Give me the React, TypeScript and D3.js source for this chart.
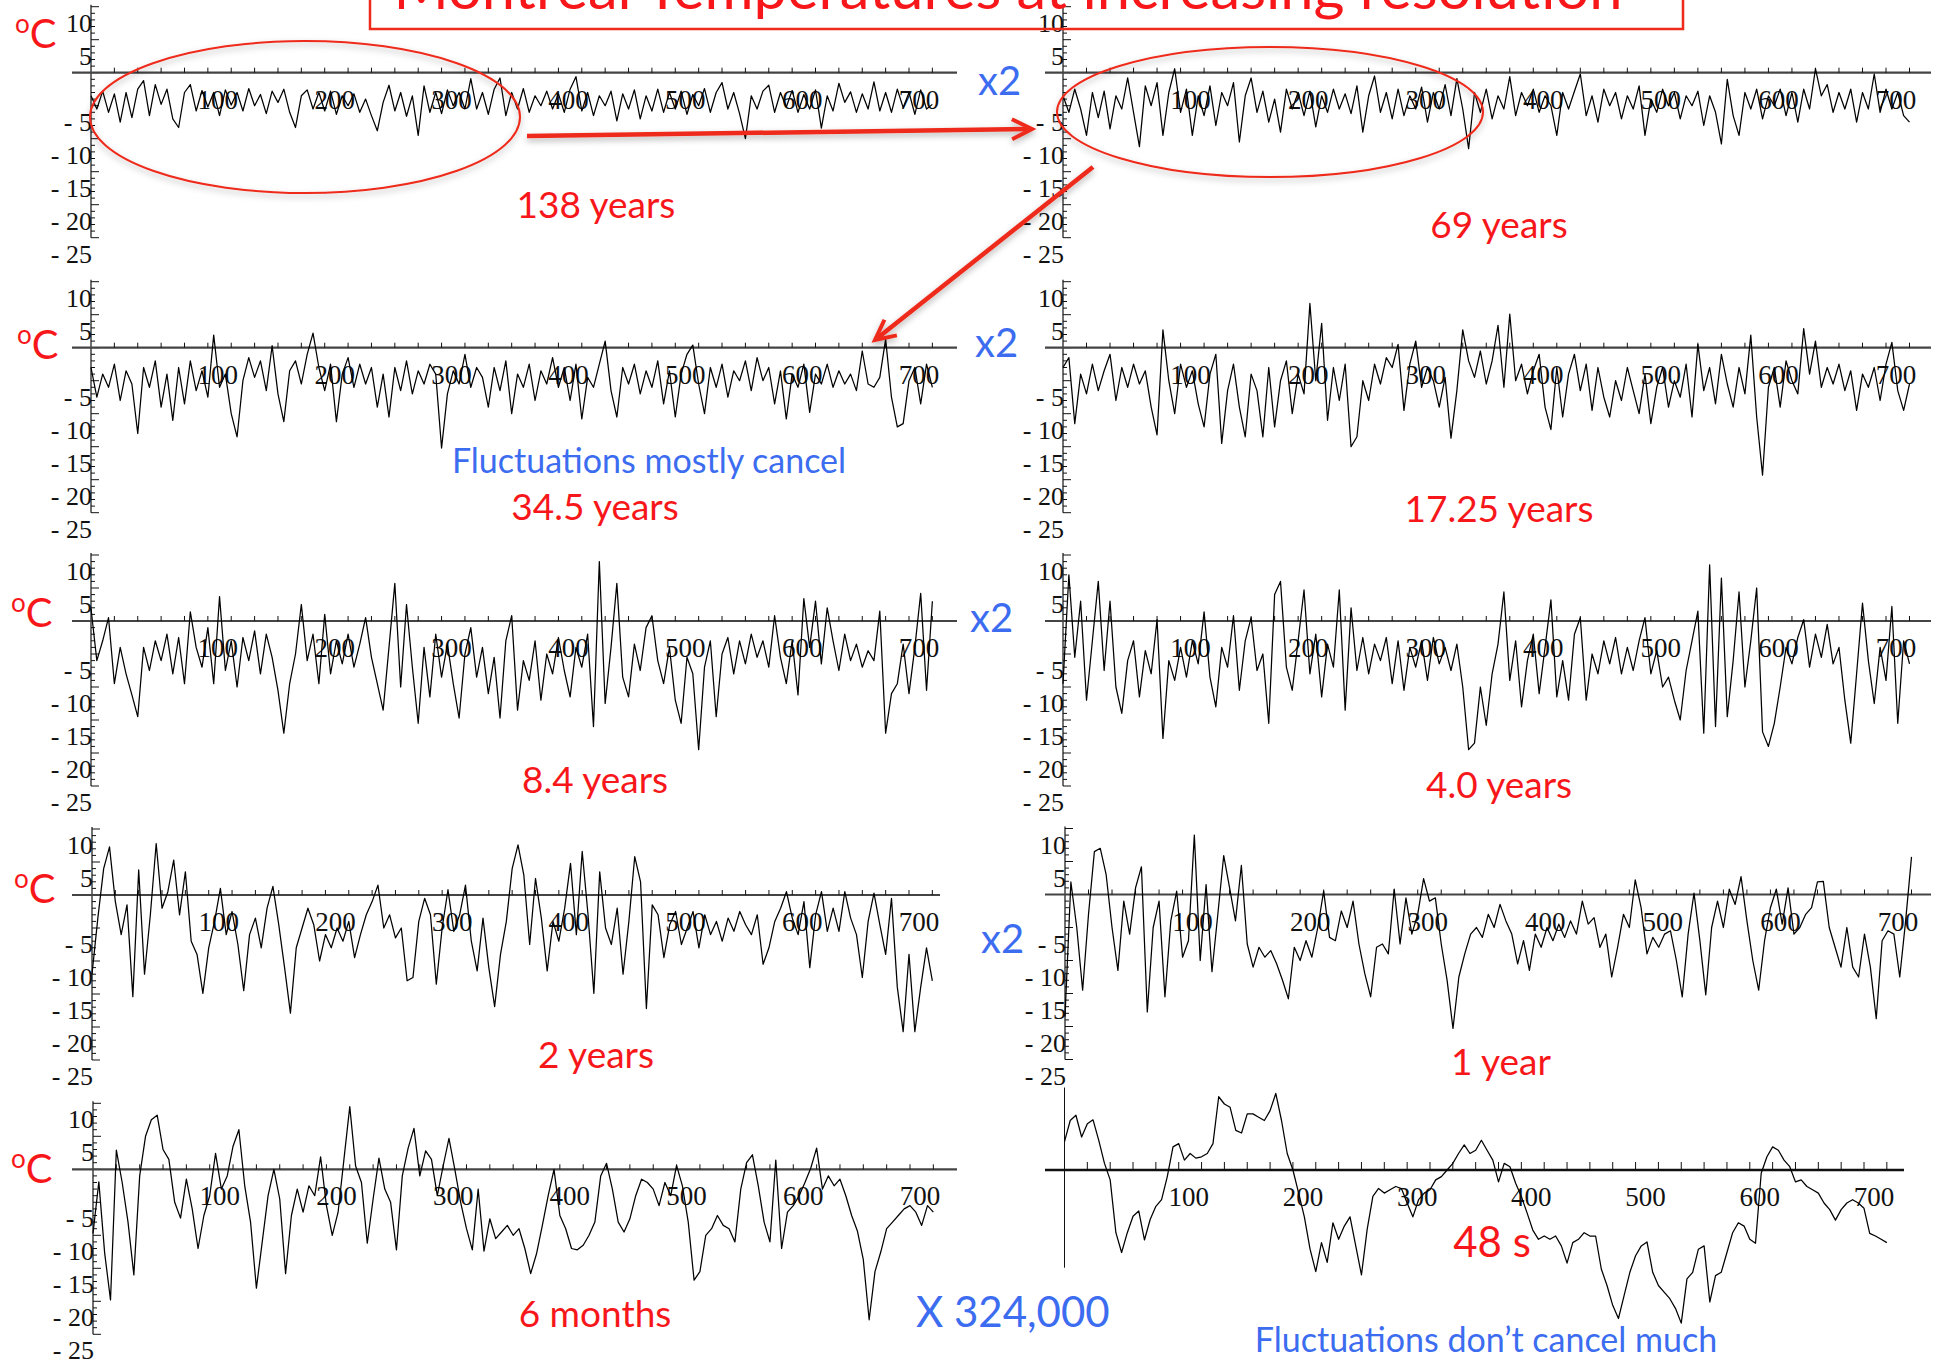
import React from 'react';
import * as d3 from 'd3';

// values every STEP units along the x axis
const STEP = 5;

const xTickLabels = [100, 200, 300, 400, 500, 600, 700];
const yTickLabels = [10, 5, -5, -10, -15, -20, -25];

const scaleNames = ['138 years', '69 years', '34.5 years', '17.25 years', '8.4 years', '4.0 years', '2 years', '1 year', '6 months', '48 s'];

const years138 = [
  -3.5, -5.5, -2.8, -6.0, -3.2, -7.5, -3.0, -6.8, -2.5, -1.2, -6.5, -1.8, -4.8, -2.5, -7.0, -8.3, -3.0, -1.8, -5.8, -2.7,
  -5.2, -3.0, -6.5, -2.6, -4.9, -3.0, -5.8, -2.4, -5.0, -3.3, -6.2, -2.8, -4.5, -2.5, -6.0, -8.3, -3.5, -2.6, -5.5, -3.0,
  -5.8, -2.8, -6.3, -3.5, -5.0, -3.2, -6.0, -4.0, -6.5, -8.8, -4.5, -1.9, -5.8, -3.0, -6.6, -3.5, -9.5, -2.0, -6.0, -3.0,
  -6.2, -2.6, -5.0, -3.0, -5.5, -0.9, -5.5, -3.0, -6.3, -2.5, -0.8, -6.5, -3.0, -5.5, -2.4, -6.0, -3.5, -5.0, -2.8, -5.5,
  -3.2, -6.0, -2.5, -0.6, -5.8, -3.0, -6.5, -3.5, -5.0, -2.8, -7.3, -3.2, -5.5, -2.6, -7.0, -3.5, -5.8, -2.5, -6.0, -3.0,
  -5.5, -2.8, -6.3, -3.3, -5.0, -2.4, -6.0, -3.0, -1.5, -5.5, -3.0, -6.2, -10.0, -3.5, -5.5, -2.8, -1.9, -6.0, -3.0, -5.2,
  -2.7, -6.0, -3.3, -5.5, -2.6, -8.4, -3.5, -5.8, -1.6, -4.5, -2.9, -6.0, -3.2, -5.5, -1.4, -5.8, -3.0, -6.0, -2.5, -5.3,
  -3.0, -6.3, -2.6, -5.5, -4.8,
];

const years69 = [
  -3.5, -6.0, -2.5, -5.5, -9.5, -3.0, -6.8, -2.8, -8.5, -3.5, -5.5, -0.8, -6.0, -11.2, -2.0, -5.0, -1.5, -9.5, -3.0, 0.6,
  -6.0, -2.5, -9.5, -3.5, -6.5, -2.0, -8.0, -3.0, -5.0, -1.5, -10.5, -3.5, -0.8, -6.0, -2.8, -7.5, -4.0, -9.0, -2.5, -5.5,
  -3.0, -6.5, -2.8, -8.2, -3.5, -6.0, -2.5, -5.5, -3.2, -6.2, -2.0, -9.0, -3.5, -0.5, -6.0, -3.0, -7.0, -2.5, -6.5, -3.5,
  -5.5, -2.2, -7.5, -3.0, -5.5, -1.8, -6.5, -0.9, -5.5, -11.5, -3.0, -6.0, -2.5, -7.0, -3.5, -5.5, -0.6, -6.5, -3.0, -5.0,
  -2.5, -6.0, -3.5, -5.0, -9.5, -3.0, -5.5, -2.8, -0.2, -6.5, -3.5, -7.5, -2.5, -5.0, -3.0, -7.0, -3.5, -5.5, -2.0, -9.5,
  -4.0, -6.0, -2.5, -5.0, -3.0, -7.0, -3.5, -5.0, -2.8, -8.0, -3.5, -6.0, -10.8, -1.0, -6.5, -9.5, -3.0, -5.5, -2.5, -7.0,
  -3.5, -5.0, -2.5, -6.5, -3.0, -7.5, -2.5, -5.5, 0.6, -3.5, -1.8, -6.0, -3.0, -5.5, -2.5, -7.5, -3.0, -5.5, -0.2, -6.0,
  -2.5, -5.5, -3.0, -6.5, -7.5,
];

const years34_5 = [
  -3.0, -7.5, -4.0, -6.0, -2.5, -8.0, -3.5, -5.5, -13.0, -3.0, -6.0, -2.0, -9.0, -4.0, -11.0, -3.0, -8.5, -2.0, -6.5, -3.5,
  -7.5, 1.9, -6.0, -4.0, -10.0, -13.5, -5.0, -1.5, -4.5, -2.0, -6.5, 0.3, -7.0, -11.2, -3.5, -2.0, -5.5, -1.0, 2.2, -3.0,
  -6.5, -2.5, -11.2, -4.0, -1.5, -6.0, -2.5, -5.5, -3.0, -9.0, -4.0, -10.5, -3.0, -6.5, -2.0, -7.0, -3.5, -5.5, -2.5, -4.0,
  -15.2, -7.0, -3.5, -5.5, -1.0, -6.0, -3.0, -4.5, -9.0, -3.0, -6.5, -2.0, -10.0, -4.0, -6.0, -2.5, -8.0, -3.5, -5.5, -1.5,
  -6.0, -3.0, -8.0, -2.5, -10.8, -4.5, -6.0, -2.5, 1.0, -6.5, -10.5, -3.0, -5.5, -2.5, -7.0, -3.5, -6.0, -2.0, -8.5, -3.5,
  -10.5, -4.0, -1.0, 0.4, -5.5, -10.0, -3.0, -6.0, -2.5, -7.5, -3.5, -5.0, -2.0, -6.5, -1.5, -5.0, -3.0, -8.5, -3.5, -10.8,
  -4.0, -6.0, -2.5, -9.8, -4.0, -5.5, -2.5, -6.0, -3.5, -5.5, -4.0, -6.5, -0.5, -5.5, -6.0, -4.5, 1.3, -7.5, -12.0, -11.5,
  -5.0, -3.0, -8.5, -2.5, -6.0,
];

const years17_25 = [
  -3.0, -1.5, -11.5, -4.0, -7.0, -2.5, -6.5, -3.5, -1.0, -8.0, -3.0, -6.0, -2.5, -5.5, -3.5, -9.0, -13.2, 2.7, -5.0, -10.0,
  -2.5, -6.0, -3.5, -8.5, -12.0, -4.0, -1.0, -14.5, -6.5, -2.5, -9.0, -13.5, -4.0, -6.5, -13.5, -3.0, -12.0, -5.0, -2.0, -10.0,
  -4.0, -7.0, 6.7, -5.0, 3.7, -11.0, -3.0, -8.0, -2.5, -15.0, -13.5, -5.0, -8.0, -2.5, -5.5, -1.5, -3.0, 0.5, -9.5, -2.5,
  1.0, -6.0, -3.0, -5.0, -9.0, -4.5, -13.7, -6.5, 2.7, -2.0, -4.5, -0.5, -5.5, -2.0, 3.4, -6.0, 5.1, -5.0, -2.5, -7.0,
  -3.5, -1.0, -9.0, -12.4, -3.0, -10.5, -4.0, -1.0, -6.5, -2.5, -9.5, -3.0, -7.5, -10.5, -5.0, -8.0, -3.0, -6.5, -10.0, -4.0,
  -11.5, -6.0, -3.0, -9.0, -5.0, -7.5, -2.5, -10.5, 0.5, -6.5, -3.0, -8.5, -1.0, -5.5, -9.0, -3.0, -7.0, 1.9, -10.5, -19.3,
  -6.0, -3.0, -9.0, -2.0, -5.0, -7.0, 2.9, -4.0, 1.0, -6.0, -3.0, -5.5, -2.5, -6.5, -3.5, -9.5, -4.0, -6.0, -3.0, -8.0,
  -2.5, 0.8, -6.5, -9.5, -5.5,
];

const years8_4 = [
  1.9, -6.0, -3.0, 0.5, -9.5, -4.0, -8.0, -11.2, -14.5, -4.0, -7.5, -3.0, -6.0, -2.0, -8.0, -2.5, -9.5, 1.4, -4.0, -7.0,
  -1.0, -9.5, 3.7, -7.5, -3.0, -10.0, -2.5, -6.0, -1.5, -8.0, -2.0, -5.5, -10.5, -17.0, -9.5, -5.0, 2.5, -6.0, -2.0, -9.5,
  1.0, -8.0, -3.0, -6.5, -2.0, -7.0, -3.5, 0.5, -5.5, -9.5, -13.5, -4.0, 5.7, -10.0, 2.5, -7.0, -15.5, -4.0, -11.5, -2.0,
  -8.5, -3.5, -9.5, -14.7, -5.0, -1.0, -8.5, -4.0, -11.0, -5.5, -14.7, -3.0, 0.8, -13.5, -6.0, -9.0, -3.0, -12.0, -5.0, -8.0,
  -2.5, -7.5, -11.5, -4.0, -7.0, -2.0, -16.0, 9.0, -12.5, -4.0, 5.7, -8.5, -11.5, -3.5, -7.5, -1.0, 0.8, -6.0, -9.5, -4.0,
  -12.0, -15.5, -5.5, -8.0, -19.5, -7.0, -3.0, -14.5, -5.0, -2.5, -8.0, -3.0, -6.5, -2.0, -5.5, -3.0, -7.0, 0.8, -5.5, -9.5,
  -3.0, -11.2, 3.4, -4.0, 3.0, -6.5, 2.0, -3.0, -7.5, -2.0, -6.0, -3.5, -7.0, -4.5, -6.0, 1.5, -17.0, -11.0, -9.5, -3.5,
  -11.0, -4.0, 4.2, -10.5, 3.0,
];

const years4_0 = [
  -9.5, 7.0, -5.5, 3.0, -12.0, -3.0, 6.0, -7.5, 3.0, -10.0, -14.0, -6.0, -3.0, -11.5, -4.5, -8.0, 0.2, -17.8, -6.0, -9.0,
  -4.0, -8.5, -3.0, -6.5, 1.4, -8.5, -13.0, -4.0, -7.0, 0.8, -10.5, -3.0, 0.5, -7.5, -5.0, -15.5, 4.0, 6.0, -7.0, -10.5,
  -3.0, 4.7, -8.0, -2.0, -11.5, -3.5, -7.0, 4.7, -13.5, 2.0, -7.5, -2.5, -8.0, -3.5, -6.0, -2.5, -9.5, -3.0, -10.5, -4.0,
  -7.0, -3.0, -9.0, -2.5, -6.5, -4.0, -7.5, -3.5, -10.0, -19.5, -18.5, -10.0, -15.8, -8.0, -3.5, 4.4, -9.0, -3.0, -13.0, -6.0,
  -2.0, -11.0, -4.0, 3.2, -11.5, -6.0, -12.0, -2.0, 0.5, -12.0, -5.0, -8.0, -3.0, -6.5, -2.5, -8.0, -4.0, -7.5, -3.0, 0.5,
  -8.0, -4.5, -10.0, -8.5, -12.0, -15.0, -7.5, -3.0, 1.5, -17.0, 8.5, -16.0, 6.5, -14.5, -6.0, 4.4, -10.0, -3.0, 5.0, -16.8,
  -19.0, -15.5, -10.0, -4.0, -6.5, -2.5, 0.2, -7.0, -2.0, -5.5, -0.5, -6.5, -4.0, -12.0, -18.5, -8.0, 2.7, -6.0, -12.5, -4.0,
  -9.0, 2.2, -15.5, -3.0, -6.5,
];

const years2 = [
  -12.0, -3.5, 4.0, 7.3, -1.0, -6.0, -1.5, -15.4, 3.8, -12.0, -3.0, 7.8, -2.0, 0.5, 5.3, -3.0, 3.5, -7.0, -9.0, -14.9,
  -8.0, -4.0, 1.0, -6.0, -2.5, -7.5, -14.5, -6.0, -3.5, -8.0, -2.0, 1.3, -4.5, -11.0, -17.9, -8.0, -5.0, -2.0, -4.5, -10.0,
  -6.0, -8.0, -5.0, -7.0, -4.0, -9.5, -6.0, -3.0, -1.0, 1.5, -5.0, -3.0, -6.5, -5.0, -13.0, -12.5, -4.0, -0.5, -3.0, -13.5,
  -5.0, 0.8, -5.5, -3.0, 1.5, -7.0, -11.5, -3.5, -11.0, -16.9, -9.0, -4.0, 4.0, 7.6, 3.0, -7.5, 2.5, -3.5, -11.5, -4.0,
  -7.0, -2.0, 4.8, -6.0, 6.6, -3.0, -14.9, 3.5, -5.0, -7.5, -2.0, -12.0, -4.0, 5.8, 2.0, -17.2, -1.5, -3.0, -9.5, -4.5,
  -2.5, -7.5, -5.0, -2.5, -8.0, -3.0, -6.0, -4.0, -7.0, -3.5, -5.5, -2.5, -4.5, -6.0, -3.0, -10.5, -8.0, -4.0, -2.0, 0.5,
  -3.5, -6.0, -1.0, -11.0, -3.0, 0.5, -5.5, -2.0, -5.5, 0.5, -3.5, -6.0, -12.5, -4.0, 0.3, -4.5, -9.0, -0.5, -14.0, -20.7,
  -9.0, -20.7, -14.0, -8.0, -13.0,
];

const year1 = [
  -18.5, 1.9, -5.0, -14.5, -3.0, 6.5, 7.0, 3.0, -5.0, -11.5, -1.0, -6.0, 1.0, 4.2, -17.8, -5.0, -1.0, -15.5, -4.0, 0.5,
  -9.5, -7.0, 9.0, -10.0, 1.5, -11.7, -3.0, 5.9, 1.0, -4.0, 4.4, -7.5, -11.0, -8.0, -9.5, -8.5, -10.5, -13.0, -15.8, -8.0,
  -10.0, -7.0, -9.5, -5.0, 0.5, -6.5, -7.0, -2.5, -5.0, -1.0, -7.5, -12.0, -15.5, -8.0, -7.5, -9.0, 0.8, -7.5, -0.5, -6.0,
  -3.0, 2.4, -1.0, -0.5, -7.5, -13.0, -20.3, -12.5, -9.0, -6.0, -5.0, -6.5, -3.0, -5.0, -1.5, -4.0, -6.0, -10.5, -7.0, -11.5,
  -6.0, -8.0, -5.0, -7.0, -4.5, -6.5, -4.0, -6.0, -1.0, -4.5, -3.5, -8.0, -6.0, -12.5, -8.0, -3.0, -5.0, 2.2, -2.0, -9.0,
  -6.5, -8.0, -6.0, -5.5, -10.0, -15.5, -6.0, 0.2, -7.0, -15.2, -5.0, -1.0, -5.0, 0.8, -1.5, 2.7, -4.0, -10.0, -14.5, -7.0,
  -2.0, 0.8, -4.5, 1.0, -6.0, -5.0, -3.0, -2.0, 1.9, 2.0, -5.0, -8.0, -11.0, -5.0, -11.0, -12.5, -6.0, -11.0, -18.8, -7.0,
  -5.5, -6.0, -12.5, -4.0, 5.7,
];

const months6 = [
  -9.7, -1.9, -12.7, -19.8, 2.9, -2.0, -8.0, -16.0, -1.0, 5.0, 7.5, 8.2, 3.0, 1.5, -5.0, -7.4, -1.5, -6.0, -12.0, -7.0,
  -4.0, 2.4, -3.0, -1.0, 3.5, 6.0, -2.5, -8.0, -18.0, -11.0, -4.0, 0.0, -4.5, -15.8, -7.0, -3.0, -6.5, -2.5, -4.0, 1.9,
  -5.5, -10.0, -6.5, 1.5, 9.5, 0.5, -2.0, -11.2, -4.5, 1.7, -3.0, -5.0, -12.2, -1.0, 3.2, 6.2, -1.0, 2.8, 1.5, -4.0,
  0.5, 4.7, 0.0, -5.0, -9.0, -12.2, -3.0, -12.4, -7.5, -10.5, -9.5, -8.5, -10.0, -9.0, -12.0, -15.8, -12.8, -8.5, -4.0, 0.0,
  -7.0, -9.0, -12.0, -12.2, -11.5, -10.0, -8.0, -1.0, 0.9, -3.0, -8.0, -9.5, -7.5, -4.0, -1.5, -2.0, -3.0, -5.5, -2.0, -4.0,
  0.6, -2.5, -8.0, -16.8, -15.5, -10.0, -9.0, -7.0, -8.5, -9.0, -11.0, -3.0, 1.0, 2.2, -2.5, -8.0, -11.0, 1.4, -12.0, -6.5,
  -5.5, -4.0, -2.0, 0.2, 3.2, -3.0, -1.0, -2.5, -1.5, -4.0, -7.0, -9.4, -13.7, -22.8, -15.5, -12.5, -9.0, -8.0, -7.0, -6.0,
  -5.5, -6.5, -8.5, -5.5, -6.5,
];

const seconds48 = [
  4.3, 7.5, 8.3, 5.0, 7.0, 7.6, 4.5, 1.0, -1.5, -9.5, -12.5, -9.5, -7.0, -6.2, -10.6, -7.5, -5.5, -4.5, -1.0, 3.5,
  4.0, 1.5, 2.5, 1.8, 2.0, 2.5, 4.0, 11.1, 10.0, 9.5, 6.0, 5.6, 8.5, 8.5, 8.0, 7.5, 9.0, 11.6, 7.5, 2.5,
  0.0, -3.5, -7.1, -12.0, -15.4, -11.0, -14.0, -8.0, -10.5, -8.5, -7.1, -11.5, -15.9, -9.0, -4.0, -2.8, -3.5, -3.0, -2.5, -2.8,
  -5.0, -7.1, -4.5, -3.5, -3.0, -1.5, -1.0, 0.0, 1.0, 2.5, 3.8, 2.5, 3.0, 4.5, 3.0, 1.5, -1.8, 1.0, 0.5, -2.0,
  -4.0, -6.5, -9.1, -10.5, -10.0, -10.5, -10.0, -11.5, -14.1, -11.0, -10.5, -9.5, -10.0, -10.0, -15.0, -17.5, -20.5, -22.5, -19.0, -15.5,
  -13.0, -11.5, -10.9, -15.5, -17.5, -18.5, -19.5, -21.0, -23.2, -16.5, -15.5, -12.0, -11.5, -20.0, -16.0, -15.5, -12.5, -9.5, -8.0, -8.5,
  -10.5, -11.1, -0.5, 2.0, 3.5, 3.0, 1.5, 0.5, -1.8, -1.5, -2.5, -3.0, -3.5, -5.0, -6.0, -7.6, -6.0, -5.0, -4.5, -5.0,
  -5.8, -9.6, -10.0, -10.5, -11.0,
];

const RED = '#f7171a';
const SHAPE_RED = '#ee2a1a';
const BLUE = '#3c6cf0';
const SERIF = '"Liberation Serif", "DejaVu Serif", serif';
const SANS = 'Lato, "Open Sans", sans-serif';
const PX_PER_UNIT = 6.6;

// panel placement on the page
const panels = [
  { data: years138, name: scaleNames[0], x0: 91, x700: 909, zero: 72.7, axisL: 72, axisR: 957, nameX: 596, nameY: 218 },
  { data: years69, name: scaleNames[1], x0: 1063, x700: 1886, zero: 72.7, axisL: 1045, axisR: 1931, nameX: 1499, nameY: 238 },
  { data: years34_5, name: scaleNames[2], x0: 91, x700: 909, zero: 347.7, axisL: 72, axisR: 957, nameX: 595, nameY: 520 },
  { data: years17_25, name: scaleNames[3], x0: 1063, x700: 1886, zero: 347.7, axisL: 1045, axisR: 1931, nameX: 1499, nameY: 522 },
  { data: years8_4, name: scaleNames[4], x0: 91, x700: 909, zero: 621, axisL: 72, axisR: 957, nameX: 595, nameY: 793 },
  { data: years4_0, name: scaleNames[5], x0: 1063, x700: 1886, zero: 621, axisL: 1045, axisR: 1931, nameX: 1499, nameY: 798 },
  { data: years2, name: scaleNames[6], x0: 92, x700: 909, zero: 895, axisL: 72, axisR: 940, nameX: 596, nameY: 1068 },
  { data: year1, name: scaleNames[7], x0: 1065, x700: 1888, zero: 894.5, axisL: 1045, axisR: 1931, nameX: 1501, nameY: 1075 },
  { data: months6, name: scaleNames[8], x0: 93, x700: 910, zero: 1169.3, axisL: 72, axisR: 957, nameX: 595, nameY: 1327 },
  { data: seconds48, name: scaleNames[9], x0: 1064.5, x700: 1864, zero: 1170, axisL: 1045, axisR: 1904, nameX: 1492, nameY: 1257, bare: true },
];

const degreeLabels = [48, 359, 627, 903, 1183];
const degreeLeft = [32, 34, 28, 31, 28];
const x2Labels = [[978, 95], [975, 357], [970, 632], [981, 953]];

function arrowPaths(sx: number, sy: number, tx: number, ty: number) {
  const dx = tx - sx;
  const dy = ty - sy;
  const L = Math.hypot(dx, dy);
  const ux = dx / L;
  const uy = dy / L;
  const bx = tx - ux * 20;
  const by = ty - uy * 20;
  const h = 10;
  return {
    shaft: `M${sx},${sy}L${tx - ux * 2},${ty - uy * 2}`,
    head: `M${bx - uy * h},${by + ux * h}L${tx},${ty}L${bx + uy * h},${by - ux * h}`,
  };
}

function Panel({ p }: { p: any }) {
  const x = d3.scaleLinear().domain([0, 700]).range([p.x0, p.x700]);
  const y = d3.scaleLinear().domain([0, 10]).range([p.zero, p.zero - 10 * PX_PER_UNIT]);
  const line = d3
    .line<number>()
    .x((_, i) => x(i * STEP))
    .y((d) => y(d));

  const minorX = d3.range(20, 721, 20);
  const minorY = d3.range(-25, 11, 1);
  const tickLen = p.bare ? 8 : 5;

  return (
    <g>
      {/* y axis */}
      {p.bare ? (
        <line x1={p.x0} x2={p.x0} y1={y(12.5)} y2={y(-14.8)} stroke="#111" strokeWidth={1} />
      ) : (
        <g>
          <line x1={p.x0} x2={p.x0} y1={y(10.3)} y2={y(-25)} stroke="#111" strokeWidth={1.2} />
          {minorY.map((v) => (
            <line key={v} x1={p.x0} x2={p.x0 + (v % 5 === 0 ? 8 : 4)} y1={y(v)} y2={y(v)} stroke="#111" strokeWidth={1} />
          ))}
          {yTickLabels.map((v) => (
            <text key={v} x={p.x0 + 1} y={y(v) + 25} textAnchor="end" fontFamily={SERIF} fontSize={26} fill="#111">
              {v < 0 ? `- ${Math.abs(v)}` : String(v)}
            </text>
          ))}
        </g>
      )}

      {/* x axis */}
      <line x1={p.axisL} x2={p.axisR} y1={y(0)} y2={y(0)} stroke={p.bare ? '#111' : '#444'} strokeWidth={p.bare ? 2.6 : 2.2} />
      {minorX.map((v) => (
        <line key={v} x1={x(v)} x2={x(v)} y1={y(0)} y2={y(0) - tickLen} stroke="#111" strokeWidth={1} />
      ))}
      {xTickLabels.map((v) => (
        <text key={v} x={x(v) + 10} y={y(0) + 36} textAnchor="middle" fontFamily={SERIF} fontSize={27} fill="#111">
          {v}
        </text>
      ))}

      <path d={line(p.data) || ''} fill="none" stroke="#000" strokeWidth={1.25} strokeLinejoin="round" />

      <text x={p.nameX} y={p.nameY} textAnchor="middle" fontFamily={SANS} fontSize={p.bare ? 42 : 37} fill={RED}>
        {p.name}
      </text>
    </g>
  );
}

export default function App() {
  const a1 = arrowPaths(527, 136, 1032, 129);
  const a2 = arrowPaths(1093, 167, 875, 340);

  return (
    <svg
      width={1937}
      height={1360}
      style={{ position: 'absolute', left: 0, top: 0, background: '#fff' }}
      xmlns="http://www.w3.org/2000/svg"
    >
      <defs>
        <filter id="shadow" x="-10%" y="-20%" width="120%" height="140%">
          <feDropShadow dx="0" dy="3" stdDeviation="3" floodColor="#000" floodOpacity="0.3" />
        </filter>
      </defs>
      <rect width={1937} height={1360} fill="#fff" />

      {panels.map((p, i) => (
        <Panel key={i} p={p} />
      ))}

      {/* title box, cut by the top edge */}
      <rect x={370} y={-12} width={1313} height={41} fill="none" stroke={SHAPE_RED} strokeWidth={2.5} />
      <text x={1008} y={9} textAnchor="middle" fontFamily={SANS} fontSize={58} fill={RED} textLength={1229} lengthAdjust="spacingAndGlyphs">
        Montreal Temperatures at increasing resolution
      </text>

      {/* unit labels */}
      {degreeLabels.map((by, i) => (
        <text key={i} x={degreeLeft[i] - 17} y={by} fontFamily={SANS} fill={RED}>
          <tspan fontSize={26} dy={-15}>o</tspan>
          <tspan fontSize={40} dy={15}>C</tspan>
        </text>
      ))}

      {x2Labels.map(([lx, ly], i) => (
        <text key={i} x={lx} y={ly} fontFamily={SANS} fontSize={40} fill={BLUE}>
          x2
        </text>
      ))}

      {/* zoom ellipses and arrows */}
      <g filter="url(#shadow)" fill="none" stroke={SHAPE_RED}>
        <ellipse cx={305} cy={117} rx={215} ry={76} strokeWidth={2} />
        <ellipse cx={1270} cy={112} rx={213} ry={65} strokeWidth={2} />
        <path d={a1.shaft} strokeWidth={4.5} />
        <path d={a1.head} strokeWidth={4} strokeLinejoin="miter" />
        <path d={a2.shaft} strokeWidth={4.5} />
        <path d={a2.head} strokeWidth={4} strokeLinejoin="miter" />
      </g>

      <text x={649} y={473} textAnchor="middle" fontFamily={SANS} fontSize={34} fill={BLUE}>
        Fluctuations mostly cancel
      </text>
      <text x={1486} y={1352} textAnchor="middle" fontFamily={SANS} fontSize={34} fill={BLUE}>
        Fluctuations don’t cancel much
      </text>
      <text x={916} y={1327} fontFamily={SANS} fontSize={42} fill={BLUE}>
        X 324,000
      </text>
    </svg>
  );
}
